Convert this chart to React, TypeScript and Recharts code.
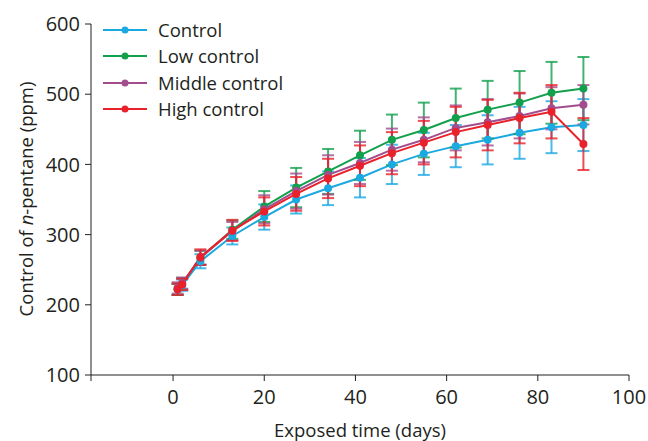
import React from 'react';
import { LineChart, Line, XAxis, YAxis, ErrorBar } from 'recharts';

const days = [1, 2, 6, 13, 20, 27, 34, 41, 48, 55, 62, 69, 76, 83, 90];

const control = [222, 228, 262, 298, 325, 350, 366, 381, 400, 415, 426, 435, 445, 453, 456];
const controlErr = [8, 8, 10, 12, 18, 20, 24, 28, 28, 30, 30, 35, 37, 37, 37];

const lowControl = [222, 230, 267, 307, 340, 367, 390, 413, 435, 449, 466, 478, 488, 502, 508];
const lowErr = [8, 8, 10, 13, 22, 28, 32, 35, 36, 39, 42, 41, 45, 44, 45];

const middleControl = [224, 231, 267, 305, 336, 362, 385, 402, 421, 435, 452, 460, 469, 480, 485];
const middleErr = [8, 8, 10, 13, 20, 25, 28, 30, 30, 32, 32, 33, 32, 30, 28];

const highControl = [222, 229, 268, 306, 333, 358, 380, 398, 416, 431, 446, 456, 466, 475, 429];
const highErr = [8, 8, 11, 15, 20, 24, 28, 29, 30, 31, 36, 36, 36, 38, 37];

const xTicks = [-18, 0, 20, 40, 60, 80, 100];
const yTicks = [100, 200, 300, 400, 500, 600];

const series = [
  { key: 'control', err: 'controlErr', name: 'Control', color: '#1ba9e1' },
  { key: 'low', err: 'lowErr', name: 'Low control', color: '#13a04c' },
  { key: 'middle', err: 'middleErr', name: 'Middle control', color: '#a24e8e' },
  { key: 'high', err: 'highErr', name: 'High control', color: '#e8212b' },
];

const data = days.map((d, i) => ({
  day: d,
  control: control[i],
  controlErr: controlErr[i],
  low: lowControl[i],
  lowErr: lowErr[i],
  middle: middleControl[i],
  middleErr: middleErr[i],
  high: highControl[i],
  highErr: highErr[i],
}));

const FONT = '"Open Sans", sans-serif';
const TEXT = '#231f20';
const FS = 18.5;
const TICK_FS = 20;

// legend drawn over the plot, top-left
const LegendBox = () => (
  <div
    style={{
      position: 'absolute',
      left: 103,
      top: 17,
      fontFamily: FONT,
      fontSize: FS,
      color: TEXT,
      lineHeight: '26.3px',
    }}
  >
    {series.map((s) => (
      <div key={s.key} style={{ display: 'flex', alignItems: 'center' }}>
        <svg width={44} height={10} style={{ marginRight: 11 }}>
          <line x1={0} y1={5} x2={44} y2={5} stroke={s.color} strokeWidth={2} />
          <circle cx={22} cy={5} r={3.5} fill={s.color} />
        </svg>
        <span>{s.name}</span>
      </div>
    ))}
  </div>
);

const YLabel = () => (
  <text
    x={25}
    y={199}
    transform="rotate(-90 25 199)"
    textAnchor="middle"
    dominantBaseline="central"
    fontFamily={FONT}
    fontSize={FS}
    fill={TEXT}
  >
    Control of <tspan fontStyle="italic">n</tspan>-pentane (ppm)
  </text>
);

const XLabel = () => (
  <text x={360} y={437} textAnchor="middle" fontFamily={FONT} fontSize={FS} fill={TEXT}>
    Exposed time (days)
  </text>
);

export default function App() {
  return (
    <div style={{ position: 'absolute', left: 0, top: 0, width: 648, height: 441, background: '#fff' }}>
      <LineChart width={648} height={441} data={data} margin={{ top: 24, right: 19, bottom: 0, left: 0 }}>
        <XAxis
          type="number"
          dataKey="day"
          domain={[-18, 100]}
          ticks={xTicks}
          tickFormatter={(v: number) => (v < 0 ? '' : String(v))}
          stroke="#231f20"
          tick={{ fill: TEXT, fontSize: TICK_FS, fontFamily: FONT }}
          tickSize={6}
          tickMargin={9}
          height={66}
          allowDataOverflow
          label={<XLabel />}
        />
        <YAxis
          type="number"
          domain={[100, 600]}
          ticks={yTicks}
          stroke="#231f20"
          tick={{ fill: TEXT, fontSize: TICK_FS, fontFamily: FONT }}
          tickSize={6}
          tickMargin={5}
          width={91}
          label={<YLabel />}
        />
        {series.map((s) => (
          <Line
            key={s.key}
            dataKey={s.key}
            name={s.name}
            stroke={s.color}
            strokeWidth={2}
            dot={{ r: 4, fill: s.color, stroke: s.color, strokeWidth: 0 }}
            isAnimationActive={false}
            type="linear"
          >
            <ErrorBar dataKey={s.err} direction="y" width={6} stroke={s.color} strokeWidth={2} strokeOpacity={0.8} />
          </Line>
        ))}
      </LineChart>
      <LegendBox />
    </div>
  );
}
